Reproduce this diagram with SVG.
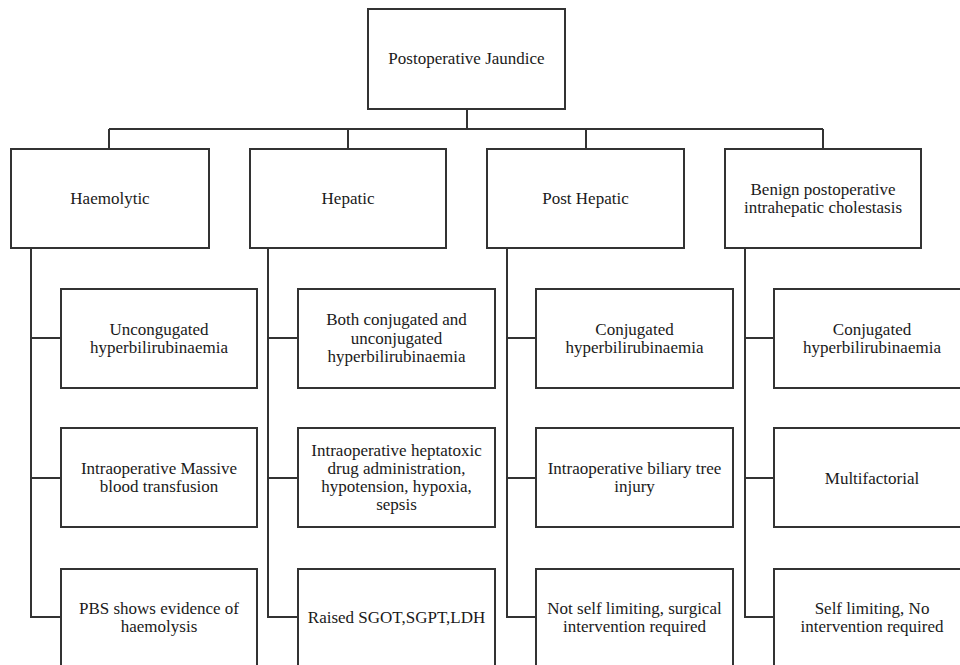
<svg xmlns="http://www.w3.org/2000/svg" width="960" height="665" viewBox="0 0 960 665">
<style>
.box{fill:#fff;stroke:#333;stroke-width:2}
.ln{fill:none;stroke:#333;stroke-width:2}
.t text{font-family:'Liberation Serif','Times New Roman',Tinos,'Noto Serif','DejaVu Serif',serif;font-size:17px;fill:#1a1a1a;text-anchor:middle}
</style>
<rect width="960" height="665" fill="#fff"/>
<g id="connectors">
<path class="ln" d="M467 109V129M109 129H823M109 129V149M348 129V149M586 129V149M823 129V149"/>
<path class="ln" d="M31 248V617H61M31 338H61M31 478H61"/>
<path class="ln" d="M268 248V617H298M268 338H298M268 478H298"/>
<path class="ln" d="M507 248V617H536M507 338H536M507 478H536"/>
<path class="ln" d="M745 248V617H774M745 338H774M745 478H774"/>
</g>
<g class="t">
<g id="root"><rect class="box" x="368" y="9" width="197" height="100"/><text x="466.5" y="64">Postoperative Jaundice</text></g>
<g id="haemolytic"><rect class="box" x="11" y="149" width="198" height="99"/><text x="110" y="204">Haemolytic</text></g>
<g id="hepatic"><rect class="box" x="250" y="149" width="196" height="99"/><text x="348" y="204">Hepatic</text></g>
<g id="posthepatic"><rect class="box" x="487" y="149" width="197" height="99"/><text x="585.5" y="204">Post Hepatic</text></g>
<g id="benign"><rect class="box" x="725" y="149" width="196" height="99"/><text x="823" y="194.5">Benign postoperative</text><text x="823" y="213">intrahepatic cholestasis</text></g>

<g id="h1"><rect class="box" x="61" y="289" width="196" height="99"/><text x="159" y="334.5">Uncongugated</text><text x="159" y="353">hyperbilirubinaemia</text></g>
<g id="h2"><rect class="box" x="61" y="428" width="196" height="99"/><text x="159" y="473.5">Intraoperative Massive</text><text x="159" y="492">blood transfusion</text></g>
<g id="h3"><rect class="box" x="61" y="569" width="196" height="110"/><text x="159" y="613.5">PBS shows evidence of</text><text x="159" y="632">haemolysis</text></g>

<g id="p1"><rect class="box" x="298" y="289" width="197" height="99"/><text x="396.5" y="325">Both conjugated and</text><text x="396.5" y="343.5">unconjugated</text><text x="396.5" y="362">hyperbilirubinaemia</text></g>
<g id="p2"><rect class="box" x="298" y="428" width="197" height="99"/><text x="396.5" y="456">Intraoperative heptatoxic</text><text x="396.5" y="474">drug administration,</text><text x="396.5" y="492">hypotension, hypoxia,</text><text x="396.5" y="510">sepsis</text></g>
<g id="p3"><rect class="box" x="298" y="569" width="197" height="110"/><text x="396.5" y="623">Raised SGOT,SGPT,LDH</text></g>

<g id="q1"><rect class="box" x="536" y="289" width="197" height="99"/><text x="634.5" y="334.5">Conjugated</text><text x="634.5" y="353">hyperbilirubinaemia</text></g>
<g id="q2"><rect class="box" x="536" y="428" width="197" height="99"/><text x="634.5" y="473.5">Intraoperative biliary tree</text><text x="634.5" y="492">injury</text></g>
<g id="q3"><rect class="box" x="536" y="569" width="197" height="110"/><text x="634.5" y="613.5">Not self limiting, surgical</text><text x="634.5" y="632">intervention required</text></g>

<g id="b1"><rect class="box" x="774" y="289" width="197" height="99"/><text x="872" y="334.5">Conjugated</text><text x="872" y="353">hyperbilirubinaemia</text></g>
<g id="b2"><rect class="box" x="774" y="428" width="197" height="99"/><text x="872" y="484">Multifactorial</text></g>
<g id="b3"><rect class="box" x="774" y="569" width="197" height="110"/><text x="872" y="613.5">Self limiting, No</text><text x="872" y="632">intervention required</text></g>
</g>
</svg>
